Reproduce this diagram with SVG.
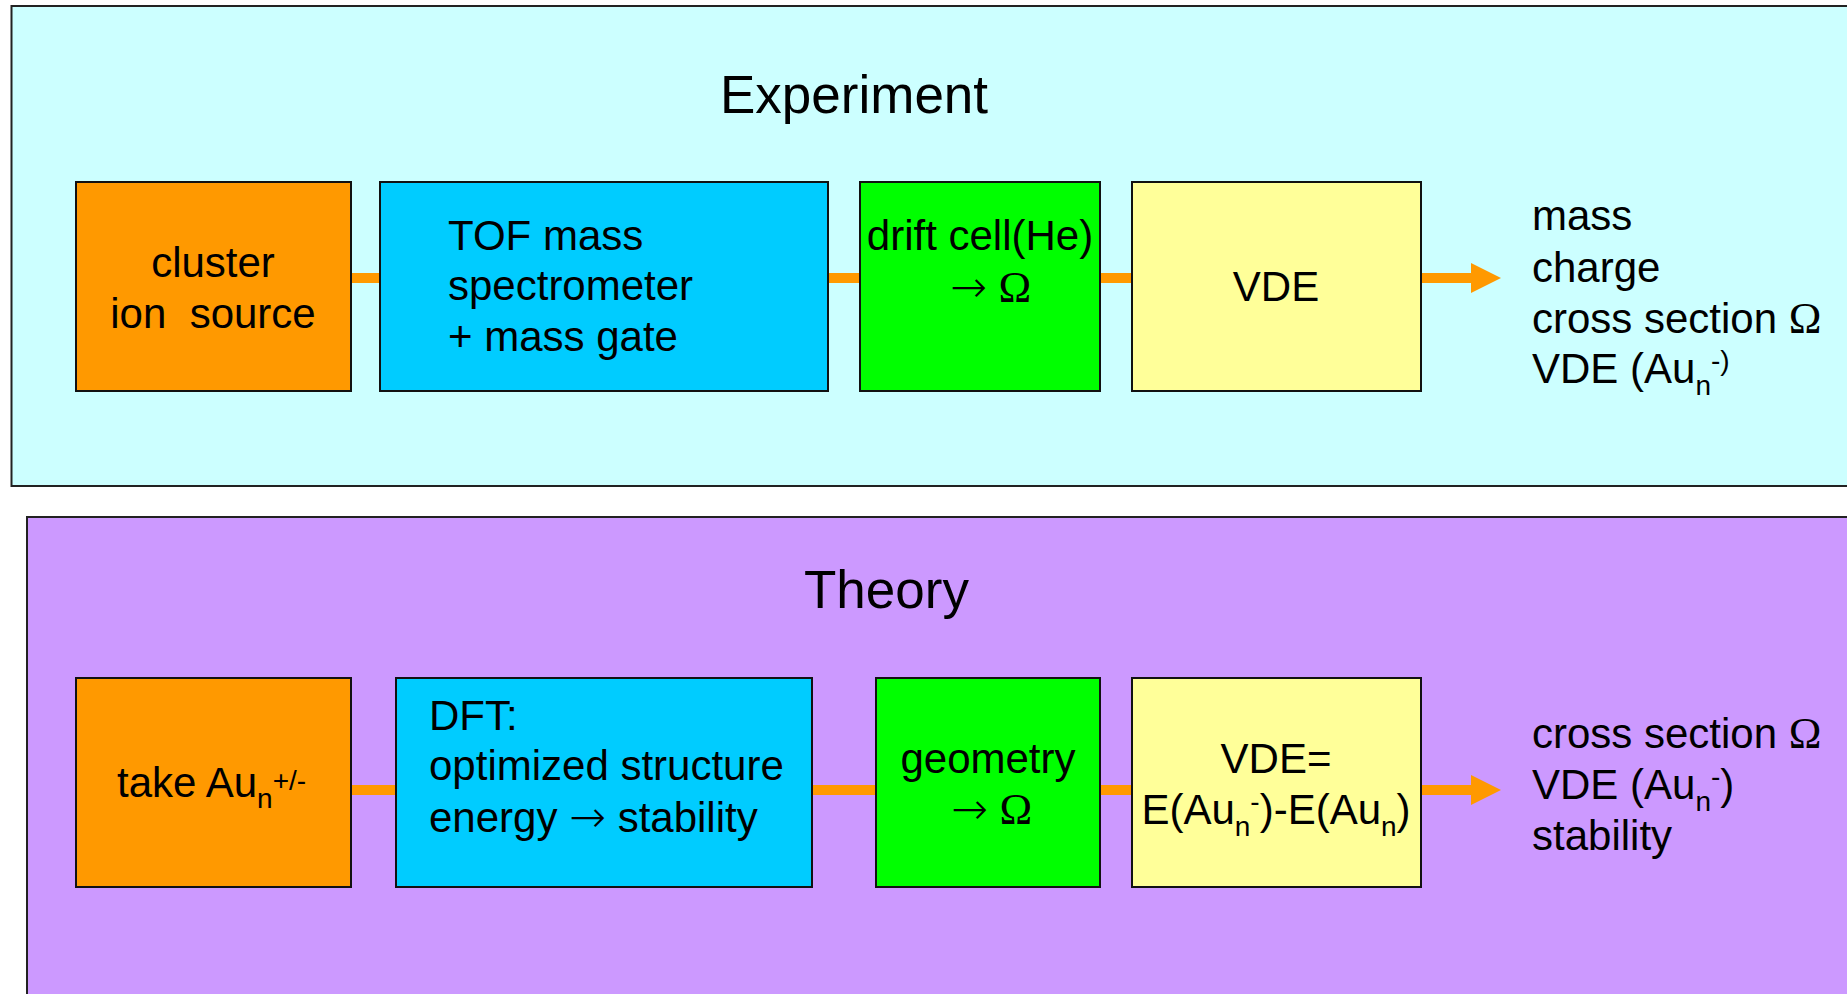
<svg xmlns="http://www.w3.org/2000/svg" width="1847" height="994" viewBox="0 0 1847 994">
  <defs>
    <style>
      .panel { stroke: #222222; stroke-width: 2; }
      .box { stroke: #111111; stroke-width: 2; }
      .t { font-family: "Liberation Sans", Arial, sans-serif; font-size: 42px; fill: #000000; }
      .title { font-family: "Liberation Sans", Arial, sans-serif; font-size: 53px; fill: #000000; }
      .sym { font-family: "Liberation Serif", "Times New Roman", serif; font-size: 44px; }
      .arr { font-family: "DejaVu Sans", sans-serif; font-size: 44px; font-weight: 200; }
      .small { font-size: 28px; }
      .link { stroke: #FF9900; stroke-width: 10; fill: none; }
      .pre { white-space: pre; }
    </style>
    <marker id="head" markerUnits="userSpaceOnUse" markerWidth="32" markerHeight="32" refX="0" refY="15" orient="auto">
      <path d="M0,0 L30,15 L0,30 Z" fill="#FF9900"/>
    </marker>
  </defs>

  <rect width="1847" height="994" fill="#ffffff"/>

  <!-- Experiment panel -->
  <g id="experiment-panel">
    <rect class="panel" x="11.5" y="6" width="1900" height="480" fill="#CCFFFF"/>
    <text class="title" x="720" y="113">Experiment</text>
  </g>

  <!-- Theory panel -->
  <g id="theory-panel">
    <rect class="panel" x="27" y="517" width="1900" height="520" fill="#CC99FF"/>
    <text class="title" x="804" y="608">Theory</text>
  </g>

  <!-- connectors -->
  <g id="connectors">
    <line class="link" x1="351" y1="278" x2="380" y2="278"/>
    <line class="link" x1="828" y1="278" x2="860" y2="278"/>
    <line class="link" x1="1100" y1="278" x2="1132" y2="278"/>
    <line class="link" x1="1421" y1="278" x2="1471" y2="278" marker-end="url(#head)"/>
    <line class="link" x1="351" y1="790" x2="396" y2="790"/>
    <line class="link" x1="812" y1="790" x2="876" y2="790"/>
    <line class="link" x1="1100" y1="790" x2="1132" y2="790"/>
    <line class="link" x1="1421" y1="790" x2="1471" y2="790" marker-end="url(#head)"/>
  </g>

  <!-- Experiment chain -->
  <g id="ion-source">
    <rect class="box" x="76" y="182" width="275" height="209" fill="#FF9900"/>
    <text class="t" x="213" y="277" text-anchor="middle">cluster</text>
    <text class="t pre" x="213" y="328" text-anchor="middle">ion  source</text>
  </g>

  <g id="tof-spectrometer">
    <rect class="box" x="380" y="182" width="448" height="209" fill="#00CCFF"/>
    <text class="t" x="448" y="250">TOF mass</text>
    <text class="t" x="448" y="300">spectrometer</text>
    <text class="t" x="448" y="351">+ mass gate</text>
  </g>

  <g id="drift-cell">
    <rect class="box" x="860" y="182" width="240" height="209" fill="#00FF00"/>
    <text class="t" x="980" y="250" text-anchor="middle">drift cell(He)</text>
    <text class="t" x="950" y="302"><tspan class="arr">→</tspan> <tspan class="sym">Ω</tspan></text>
  </g>

  <g id="vde-measure">
    <rect class="box" x="1132" y="182" width="289" height="209" fill="#FFFF99"/>
    <text class="t" x="1276" y="301" text-anchor="middle">VDE</text>
  </g>

  <g id="experiment-output">
    <text class="t" x="1532" y="230">mass</text>
    <text class="t" x="1532" y="282">charge</text>
    <text class="t" x="1532" y="333">cross section <tspan class="sym">Ω</tspan></text>
    <text class="t" x="1532" y="383">VDE (Au<tspan class="small" dy="12">n</tspan><tspan class="small" dy="-25">-)</tspan></text>
  </g>

  <!-- Theory chain -->
  <g id="take-cluster">
    <rect class="box" x="76" y="678" width="275" height="209" fill="#FF9900"/>
    <text class="t" x="117" y="797">take Au<tspan class="small" dy="11">n</tspan><tspan class="small" dy="-18">+/-</tspan></text>
  </g>

  <g id="dft">
    <rect class="box" x="396" y="678" width="416" height="209" fill="#00CCFF"/>
    <text class="t" x="429" y="730">DFT:</text>
    <text class="t" x="429" y="780">optimized structure</text>
    <text class="t" x="429" y="832">energy <tspan class="arr">→</tspan> stability</text>
  </g>

  <g id="geometry">
    <rect class="box" x="876" y="678" width="224" height="209" fill="#00FF00"/>
    <text class="t" x="988" y="773" text-anchor="middle">geometry</text>
    <text class="t" x="951" y="824"><tspan class="arr">→</tspan> <tspan class="sym">Ω</tspan></text>
  </g>

  <g id="vde-calc">
    <rect class="box" x="1132" y="678" width="289" height="209" fill="#FFFF99"/>
    <text class="t" x="1276" y="773" text-anchor="middle">VDE=</text>
    <text class="t" x="1276" y="824" text-anchor="middle">E(Au<tspan class="small" dy="12">n</tspan><tspan class="small" dy="-25">-</tspan><tspan dy="13">)-E(Au</tspan><tspan class="small" dy="12">n</tspan><tspan dy="-12">)</tspan></text>
  </g>

  <g id="theory-output">
    <text class="t" x="1532" y="748">cross section <tspan class="sym">Ω</tspan></text>
    <text class="t" x="1532" y="799">VDE (Au<tspan class="small" dy="12">n</tspan><tspan class="small" dy="-25">-</tspan><tspan dy="13">)</tspan></text>
    <text class="t" x="1532" y="850">stability</text>
  </g>
</svg>
